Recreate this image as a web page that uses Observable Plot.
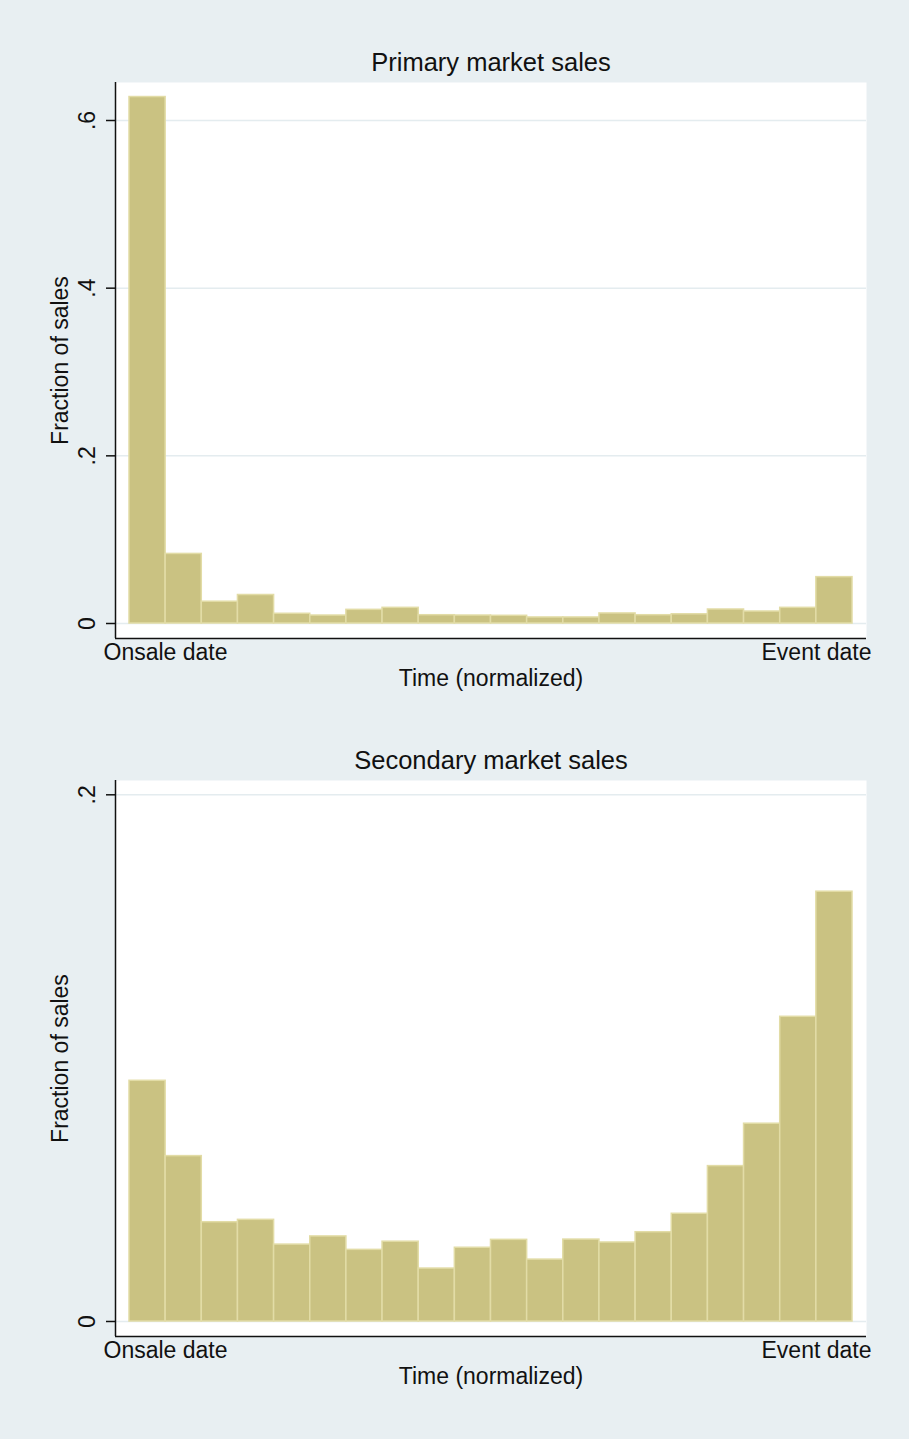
<!DOCTYPE html>
<html>
<head>
<meta charset="utf-8">
<script src="https://cdn.jsdelivr.net/npm/d3@7"></script>
<script src="https://cdn.jsdelivr.net/npm/@observablehq/plot@0.6"></script>
<style>
  html, body { margin: 0; padding: 0; background: #e8eff2; }
  #page { width: 909px; height: 1439px; overflow: hidden; background: #e8eff2; }
  #page svg { display: block; }
</style>
</head>
<body>
<div id="page"></div>
<script>
// ---- data ----
const binIndex = d3.range(20); // 20 equal-width bins between onsale date and event date
const primaryValues = [0.628, 0.083, 0.026, 0.034, 0.0116, 0.0095, 0.0163, 0.0187, 0.0099, 0.0095,
                       0.0092, 0.0072, 0.0072, 0.012, 0.0099, 0.011, 0.0167, 0.0143, 0.0187, 0.0553];
const secondaryValues = [0.0914, 0.0628, 0.0377, 0.0386, 0.0292, 0.0323, 0.0272, 0.0303, 0.0201, 0.028,
                         0.031, 0.0235, 0.0311, 0.030, 0.0339, 0.0409, 0.059, 0.0751, 0.1157, 0.1632];
const primaryTicks = [0, 0.2, 0.4, 0.6];
const secondaryTicks = [0, 0.2];
const xLabels = ["Onsale date", "Event date"];
const titles = ["Primary market sales", "Secondary market sales"];
const xTitle = "Time (normalized)";
const yTitle = "Fraction of sales";

// ---- styling ----
const BG = "#e8eff2";
const BAR_FILL = "#cac282";
const BAR_EDGE = "#e2dca6";
const GRID = "#e4ecef";
const INK = "#111";
const FONT = "'Liberation Sans', Arial, Helvetica, sans-serif";

const fmt = d => d === 0 ? "0" : String(d).replace(/^0\./, ".");

function histogram(values, ticks, yDomain, title, opts) {
  const bins = binIndex.map(i => ({x1: i, x2: i + 1, v: values[i]}));
  const xDomain = [-0.387, 20.387];
  return Plot.plot({
    width: 909,
    height: opts.height,
    marginLeft: 115,
    marginRight: 43,
    marginTop: opts.marginTop,
    marginBottom: opts.marginBottom,
    x: {domain: xDomain, axis: null},
    y: {domain: yDomain, axis: null},
    style: {background: BG, fontFamily: FONT, fontSize: "23px", color: INK, overflow: "visible"},
    marks: [
      Plot.frame({fill: "white", stroke: null}),
      Plot.gridY(ticks, {stroke: GRID, strokeOpacity: 1, strokeWidth: 1.5}),
      Plot.rectY(bins, {x1: "x1", x2: "x2", y: "v", fill: BAR_FILL, stroke: BAR_EDGE, strokeWidth: 1.5}),
      Plot.ruleX([xDomain[0]], {stroke: INK, strokeWidth: 1.5}),
      Plot.ruleY([yDomain[0]], {stroke: INK, strokeWidth: 1.5}),
      Plot.axisY(ticks, {tickSize: 9, tickFormat: () => "", label: null, stroke: INK, strokeWidth: 1.5}),
      Plot.text(ticks, {y: d => d, text: fmt, frameAnchor: "left", rotate: -90, dx: -28,
                        textAnchor: "middle", lineAnchor: "middle", fontSize: 23, fill: INK}),
      Plot.text([yTitle], {frameAnchor: "left", rotate: -90, dx: -55, textAnchor: "middle",
                           lineAnchor: "middle", fontSize: 23, fill: INK}),
      Plot.text([title], {frameAnchor: "top", dy: -20, lineAnchor: "middle", fontSize: 25.5, fill: INK}),
      Plot.text([xLabels[0]], {frameAnchor: "bottom-left", textAnchor: "start", dx: -12, dy: 14,
                               lineAnchor: "middle", fontSize: 23, fill: INK}),
      Plot.text([xLabels[1]], {frameAnchor: "bottom-right", textAnchor: "end", dx: 5, dy: 14,
                               lineAnchor: "middle", fontSize: 23, fill: INK}),
      Plot.text([xTitle], {frameAnchor: "bottom", dy: 40, lineAnchor: "middle", fontSize: 23, fill: INK})
    ]
  });
}

const page = document.getElementById("page");
page.append(histogram(primaryValues, primaryTicks, [-0.01789, 0.64533], titles[0],
  {height: 700, marginTop: 82, marginBottom: 62}));
page.append(histogram(secondaryValues, secondaryTicks, [-0.0057, 0.20543], titles[1],
  {height: 739, marginTop: 80, marginBottom: 103}));
</script>
</body>
</html>
